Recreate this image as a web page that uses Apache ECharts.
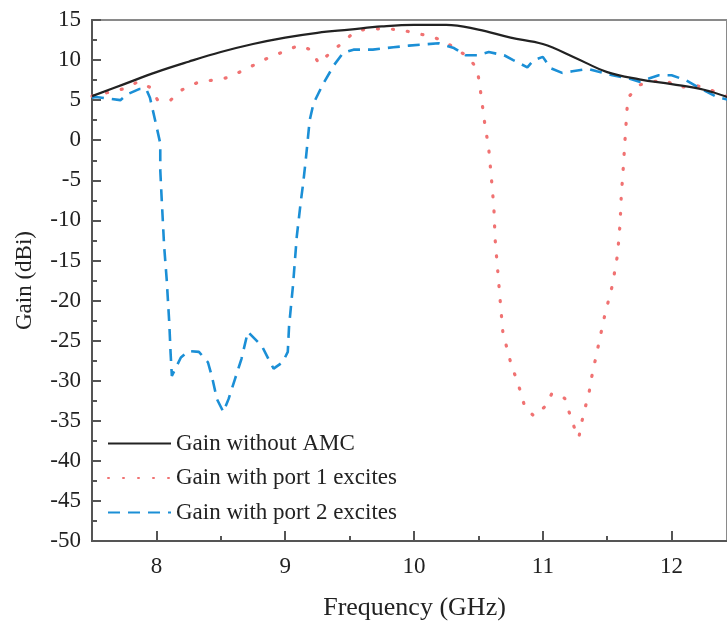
<!DOCTYPE html>
<html>
<head>
<meta charset="utf-8">
<script src="https://cdn.jsdelivr.net/npm/echarts@6/dist/echarts.min.js"></script>
<style>
html,body{margin:0;padding:0;background:#fff;}
#chart{width:727px;height:626px;}
</style>
</head>
<body>
<div id="chart"></div>
<script>
// ---- Data ----
var seriesNames = ['Gain without AMC', 'Gain with port 1 excites', 'Gain with port 2 excites'];
var xMajorTicks = [8, 9, 10, 11, 12];
var xMinorTicks = [8.5, 9.5, 10.5, 11.5];

var freqNoAmc = [7.5,7.75,8,8.25,8.5,8.75,9,9.25,9.5,9.75,10,10.25,10.5,10.75,11,11.25,11.5,11.75,12,12.25,12.5];
var gainNoAmc = [5.5,7.0,8.5,9.8,11.0,12.0,12.8,13.4,13.8,14.2,14.4,14.4,13.8,12.8,12.0,10.3,8.5,7.6,7.0,6.3,5.0];

var freqPort1 = [7.5,7.53,7.74,7.86,7.95,8.01,8.11,8.2,8.32,8.55,8.66,8.87,8.98,9.1,9.2,9.26,9.35,9.44,9.53,9.63,9.76,9.89,10.0,10.12,10.23,10.42,10.49,10.51,10.55,10.58,10.6,10.62,10.63,10.65,10.67,10.69,10.75,10.83,10.86,10.93,11.02,11.07,11.17,11.21,11.25,11.28,11.3,11.33,11.36,11.38,11.43,11.48,11.54,11.58,11.6,11.61,11.62,11.64,11.66,11.75,11.85,11.95,12.05,12.2,12.35,12.5];
var gainPort1 = [5.5,5.6,6.4,7.3,6.6,5.0,5.0,6.3,7.2,7.8,8.6,10.3,11.0,11.8,11.3,9.6,10.9,12.1,13.4,13.9,13.9,13.8,13.4,13.0,12.4,10.4,8.9,6.9,2.0,-1.0,-4.6,-8.4,-12.4,-16.3,-20.2,-24.0,-27.7,-31.5,-33.3,-34.4,-33.2,-31.6,-32.2,-34.2,-36.1,-37.1,-35.3,-33.3,-31.4,-29.5,-25.7,-21.9,-18.1,-14.3,-10.4,-6.6,-4.6,0.5,5.3,6.9,7.3,7.5,6.6,6.8,6.0,5.0];

var freqPort2 = [7.5,7.53,7.72,7.77,7.87,7.92,7.95,7.99,8.03,8.03,8.04,8.06,8.08,8.1,8.11,8.12,8.19,8.25,8.33,8.4,8.43,8.47,8.52,8.56,8.61,8.66,8.71,8.82,8.87,8.91,8.98,9.02,9.03,9.06,9.09,9.12,9.14,9.16,9.19,9.22,9.29,9.38,9.45,9.53,9.68,9.84,9.96,10.19,10.31,10.4,10.49,10.58,10.7,10.77,10.88,10.93,11.0,11.06,11.15,11.23,11.35,11.42,11.54,11.67,11.75,11.9,12.0,12.11,12.23,12.35,12.5];
var gainPort2 = [5.3,5.4,5.0,5.7,6.4,6.4,5.3,2.5,-0.4,-3.7,-7.0,-13.2,-17.4,-22.8,-26.5,-29.4,-27.1,-26.3,-26.4,-27.7,-29.4,-32.3,-33.9,-32.3,-29.8,-27.3,-23.9,-25.7,-27.3,-28.5,-27.7,-26.4,-23.2,-18.2,-12.0,-7.8,-5.3,-2.4,2.5,4.6,6.9,9.4,10.9,11.3,11.3,11.6,11.8,12.1,11.5,10.6,10.6,11.0,10.6,10.0,9.1,10.0,10.4,9.0,8.4,8.6,8.9,8.6,8.1,7.7,7.3,8.1,8.1,7.5,6.4,5.4,4.8];

function zip(xs, ys) { return xs.map(function (x, i) { return [x, ys[i]]; }); }

var FONT = 'Liberation Serif';
var AX = '#555';
var X_MIN = 7.5, X_MAX = 12.43; // the reference image is cropped just before 12.5
var chart = echarts.init(document.getElementById('chart'), null, {renderer: 'canvas'});
chart.setOption({
  animation: false,
  backgroundColor: '#fff',
  grid: {left: 92, top: 20, right: 0, bottom: 84, show: true, borderColor: '#8a8a8a', borderWidth: 2, backgroundColor: 'transparent'},
  legend: {
    orient: 'vertical', left: 102, top: 427, itemWidth: 63, itemHeight: 14, itemGap: 11.5,
    data: seriesNames,
    itemStyle: {opacity: 0},
    textStyle: {fontFamily: FONT, fontSize: 23, color: '#222', lineHeight: 23}
  },
  xAxis: [{
    type: 'value', min: X_MIN, max: X_MAX,
    name: 'Frequency (GHz)', nameLocation: 'middle', nameGap: 54,
    nameTextStyle: {fontFamily: FONT, fontSize: 26, color: '#222', padding: [0, 0, 0, 10]},
    axisLine: {onZero: false, lineStyle: {color: AX, width: 2}},
    axisTick: {inside: true, length: 10, customValues: xMajorTicks, lineStyle: {color: AX, width: 2}},
    splitLine: {show: false},
    axisLabel: {fontFamily: FONT, fontSize: 23, color: '#222', margin: 14, customValues: xMajorTicks}
  }, {
    type: 'value', min: X_MIN, max: X_MAX, position: 'bottom',
    axisLine: {show: false, onZero: false},
    axisTick: {inside: true, length: 5, customValues: xMinorTicks, lineStyle: {color: AX, width: 2}},
    splitLine: {show: false},
    axisLabel: {show: false}
  }],
  yAxis: {
    type: 'value', min: -50, max: 15, interval: 5,
    name: 'Gain (dBi)', nameLocation: 'middle', nameGap: 56,
    nameTextStyle: {fontFamily: FONT, fontSize: 23, color: '#222'},
    axisLine: {onZero: false, lineStyle: {color: AX, width: 2}},
    axisTick: {inside: true, length: 9, lineStyle: {color: AX, width: 2}},
    minorTick: {show: true, splitNumber: 2, length: 5, lineStyle: {color: AX, width: 2}},
    splitLine: {show: false},
    axisLabel: {fontFamily: FONT, fontSize: 23, color: '#222', margin: 11}
  },
  series: [
    {name: seriesNames[0], type: 'line', data: zip(freqNoAmc, gainNoAmc), smooth: 0.4, symbol: 'none',
      z: 5, lineStyle: {color: '#222', width: 2.2}, itemStyle: {color: '#222'}},
    {name: seriesNames[1], type: 'line', data: zip(freqPort1, gainPort1), symbol: 'none',
      lineStyle: {color: '#f07272', width: 3.2, type: [1, 14], cap: 'round'}, itemStyle: {color: '#f07272'}},
    {name: seriesNames[2], type: 'line', data: zip(freqPort2, gainPort2), symbol: 'none',
      lineStyle: {color: '#1b8fd6', width: 2.6, type: [12, 8]}, itemStyle: {color: '#1b8fd6'}}
  ]
});
</script>
</body>
</html>
